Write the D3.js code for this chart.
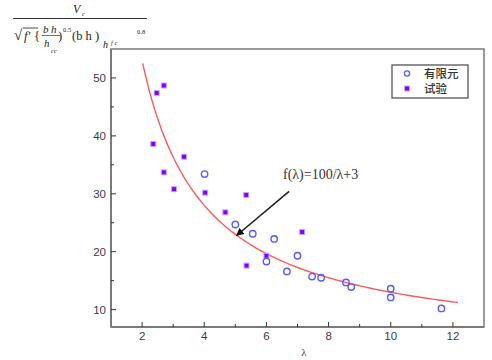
<!DOCTYPE html>
<html><head><meta charset="utf-8">
<script src="https://cdn.jsdelivr.net/npm/d3@7"></script>
<style>body{margin:0;background:#fff;}svg{display:block;}</style>
</head><body>
<script>
const xTicks = [2, 4, 6, 8, 10, 12];
const xMinor = [3, 5, 7, 9, 11];
const yTicks = [10, 20, 30, 40, 50];
const yMinor = [15, 25, 35, 45];
const feX = [4.01, 5.0, 5.56, 6.25, 6.0, 7.0, 6.66, 7.47, 7.76, 8.56, 8.73, 10.0, 10.0, 11.63];
const feY = [33.4, 24.7, 23.1, 22.2, 18.3, 19.3, 16.6, 15.7, 15.5, 14.7, 13.9, 13.6, 12.1, 10.2];
const testX = [2.47, 2.70, 2.36, 3.35, 2.70, 3.03, 4.03, 5.35, 4.68, 7.15, 6.0, 5.36];
const testY = [47.4, 48.7, 38.6, 36.4, 33.7, 30.8, 30.2, 29.8, 26.8, 23.4, 19.3, 17.6];
const curveRange = [2.02, 12.16];
const curveA = 100, curveB = 3;
const arrowFrom = [6.73, 30.4], arrowTo = [5.04, 22.8];
const legendLabels = ["有限元", "试验"];
const fitLabel = "f(λ)=100/λ+3";
const xLabel = "λ";

const W = 492, H = 360;
const svg = d3.select("body").append("svg").attr("width", W).attr("height", H);
const defs = svg.append("defs");
defs.append("marker").attr("id","ah").attr("viewBox","0 0 10 10").attr("refX",9).attr("refY",5)
  .attr("markerWidth",5).attr("markerHeight",5).attr("orient","auto")
  .append("path").attr("d","M0,0L10,5L0,10z").attr("fill","#111");

const x = d3.scaleLinear().domain([1, 13]).range([111, 484]);
const y = d3.scaleLinear().domain([7, 55]).range([327, 49]);

const axCol = "#7a7a7a";
svg.append("rect").attr("x", x(1)).attr("y", y(55)).attr("width", x(13)-x(1)).attr("height", y(7)-y(55))
  .attr("fill","none").attr("stroke", axCol).attr("stroke-width", 1.5);
svg.append("line").attr("x1",x(1)).attr("x2",x(1)).attr("y1",y(55)).attr("y2",y(7)).attr("stroke",axCol).attr("stroke-width",2);
svg.append("line").attr("x1",x(1)).attr("x2",x(13)).attr("y1",y(7)).attr("y2",y(7)).attr("stroke",axCol).attr("stroke-width",2);

const tickCol = "#333";
svg.selectAll(".yt").data(yTicks).enter().append("line")
  .attr("x1", x(1)).attr("x2", x(1)+5).attr("y1", d=>y(d)).attr("y2", d=>y(d)).attr("stroke", tickCol).attr("stroke-width",1);
svg.selectAll(".ym").data(yMinor).enter().append("line")
  .attr("x1", x(1)).attr("x2", x(1)+3).attr("y1", d=>y(d)).attr("y2", d=>y(d)).attr("stroke", tickCol).attr("stroke-width",1);
svg.selectAll(".yl").data(yTicks).enter().append("text")
  .attr("x", 106).attr("y", d=>y(d)+4).attr("text-anchor","end")
  .attr("font-family","Arial, Liberation Sans, sans-serif").attr("font-size",11.5).attr("fill","#3a3a4a").text(d=>d);
svg.selectAll(".xt").data(xTicks).enter().append("line")
  .attr("x1", d=>x(d)).attr("x2", d=>x(d)).attr("y1", y(7)).attr("y2", y(7)-5).attr("stroke", tickCol).attr("stroke-width",1);
svg.selectAll(".xm").data(xMinor).enter().append("line")
  .attr("x1", d=>x(d)).attr("x2", d=>x(d)).attr("y1", y(7)).attr("y2", y(7)-3).attr("stroke", tickCol).attr("stroke-width",1);
svg.selectAll(".xl").data(xTicks).enter().append("text")
  .attr("x", d=>x(d)).attr("y", 340).attr("text-anchor","middle")
  .attr("font-family","Arial, Liberation Sans, sans-serif").attr("font-size",11.5).attr("fill","#3a3a4a").text(d=>d);

svg.append("text").attr("x", 304).attr("y", 356).attr("text-anchor","middle")
  .attr("font-family","Liberation Serif, serif").attr("font-size",11).attr("fill","#444").text(xLabel);

// y title (fraction)
const yt = svg.append("g").attr("font-family","Liberation Serif, serif").attr("fill","#222").attr("font-style","italic");
yt.append("text").attr("x",73).attr("y",13).attr("font-size",12).text("V");
yt.append("text").attr("x",82).attr("y",16).attr("font-size",6).text("c");
yt.append("line").attr("x1",13).attr("x2",147).attr("y1",18.5).attr("y2",18.5).attr("stroke","#333").attr("stroke-width",1.1);
yt.append("text").attr("x",14).attr("y",40).attr("font-size",15).attr("font-style","normal").text("√");
yt.append("line").attr("x1",23).attr("x2",38).attr("y1",28).attr("y2",28).attr("stroke","#333").attr("stroke-width",0.9);
yt.append("text").attr("x",24).attr("y",40).attr("font-size",12.5).text("f′");
yt.append("text").attr("x",34).attr("y",40).attr("font-size",12.5).attr("font-style","normal").text("{");
yt.append("text").attr("x",43).attr("y",33).attr("font-size",11).text("b");
yt.append("text").attr("x",51).attr("y",33).attr("font-size",11).text("h");
yt.append("line").attr("x1",42).attr("x2",60).attr("y1",35.5).attr("y2",35.5).attr("stroke","#333").attr("stroke-width",0.7);
yt.append("text").attr("x",44).attr("y",47).attr("font-size",11).text("h");
yt.append("text").attr("x",51).attr("y",53).attr("font-size",6.5).text("cc");
yt.append("text").attr("x",58).attr("y",40).attr("font-size",12.5).attr("font-style","normal").text(")");
yt.append("text").attr("x",63).attr("y",32).attr("font-size",6.5).attr("font-style","normal").text("0.5");
yt.append("text").attr("x",72).attr("y",40).attr("font-size",12.5).attr("font-style","normal").text("(b h )");
yt.append("text").attr("x",103).attr("y",48).attr("font-size",10).text("h");
yt.append("text").attr("x",111).attr("y",45).attr("font-size",6.5).text("f c");
yt.append("text").attr("x",137).attr("y",34).attr("font-size",6.5).attr("font-style","normal").text("0.8");

const cx = d3.range(0, 101).map(i => curveRange[0] + (curveRange[1]-curveRange[0])*i/100);
svg.append("path").datum(cx)
  .attr("d", d3.line().x(d=>x(d)).y(d=>y(curveA/d + curveB)))
  .attr("fill","none").attr("stroke","#ff5a5a").attr("stroke-width",1.4);

svg.selectAll(".sq").data(testX.map((d,i)=>[d,testY[i]])).enter().append("rect")
  .attr("x", d=>x(d[0])-2.5).attr("y", d=>y(d[1])-2.5).attr("width",5).attr("height",5)
  .attr("fill","#8000ff").attr("stroke","#c9a6ff").attr("stroke-width",1);
svg.selectAll(".ci").data(feX.map((d,i)=>[d,feY[i]])).enter().append("circle")
  .attr("cx", d=>x(d[0])).attr("cy", d=>y(d[1])).attr("r",3.2)
  .attr("fill","none").attr("stroke","#5a5aff").attr("stroke-width",1.4);

svg.append("line").attr("x1", x(arrowFrom[0])).attr("y1", y(arrowFrom[1]))
  .attr("x2", x(arrowTo[0])).attr("y2", y(arrowTo[1]))
  .attr("stroke","#222").attr("stroke-width",1.6).attr("marker-end","url(#ah)");
svg.append("text").attr("x",283).attr("y",179).attr("font-family","Liberation Serif, serif").attr("font-size",14).attr("fill","#333").text(fitLabel);

const lg = svg.append("g");
lg.append("rect").attr("x",392).attr("y",65).attr("width",76).attr("height",33).attr("fill","#fff").attr("stroke","#555").attr("stroke-width",1.3);
lg.append("circle").attr("cx",407).attr("cy",73.5).attr("r",2.6).attr("fill","none").attr("stroke","#5a5aff").attr("stroke-width",1.3);
lg.append("rect").attr("x",404.5).attr("y",86).attr("width",5).attr("height",5).attr("fill","#8000ff").attr("stroke","#c9a6ff").attr("stroke-width",1);
lg.append("text").attr("x",424).attr("y",78).attr("font-family","Noto Sans CJK SC, sans-serif").attr("font-size",11.5).attr("font-weight",500).attr("fill","#333").text(legendLabels[0]);
lg.append("text").attr("x",424).attr("y",93).attr("font-family","Noto Sans CJK SC, sans-serif").attr("font-size",11.5).attr("font-weight",500).attr("fill","#333").text(legendLabels[1]);
</script>
</body></html>
